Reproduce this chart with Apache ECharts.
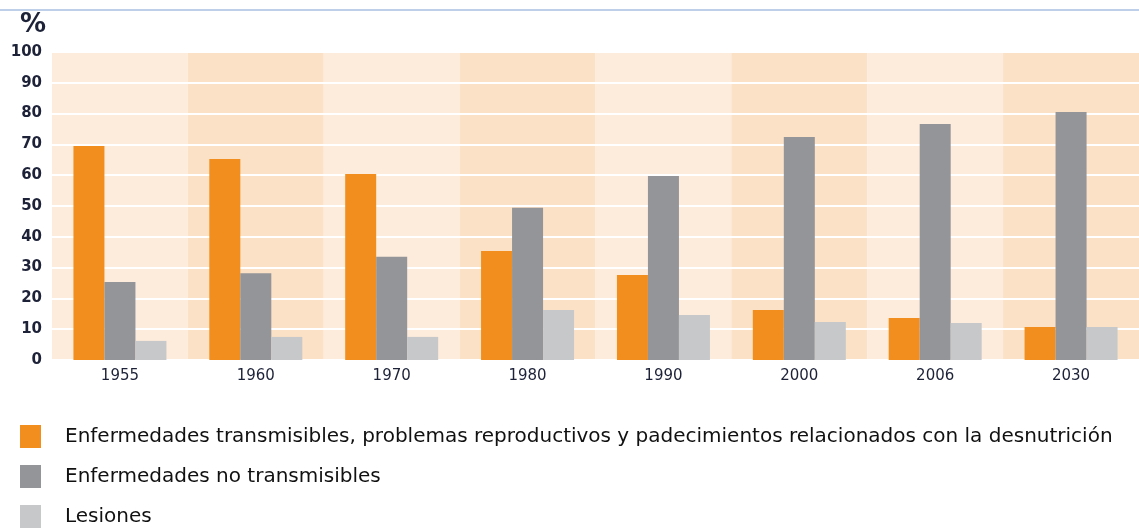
<!DOCTYPE html>
<html>
<head>
<meta charset="utf-8">
<script src="https://cdn.jsdelivr.net/npm/echarts@6/dist/echarts.min.js"></script>
<style>
  html, body { margin: 0; padding: 0; background: #fff; }
  #chart { width: 1139px; height: 529px; }
</style>
</head>
<body>
<div id="chart"></div>
<script>
const years = ["1955", "1960", "1970", "1980", "1990", "2000", "2006", "2030"]
const transmisibles = [69.5, 65.3, 60.4, 35.4, 27.6, 16.2, 13.6, 10.7]
const noTransmisibles = [25.3, 28.2, 33.5, 49.4, 59.7, 72.4, 76.6, 80.5]
const lesiones = [6.2, 7.5, 7.5, 16.2, 14.6, 12.3, 12.0, 10.7]
const seriesNames = [
  "Enfermedades transmisibles, problemas reproductivos y padecimientos relacionados con la desnutrición",
  "Enfermedades no transmisibles",
  "Lesiones",
]

const chart = echarts.init(document.getElementById("chart"))

const textColor = "#1d2238"
const font = "DejaVu Sans"

function barSeries(name, data, color) {
  return {
    name,
    type: "bar",
    data,
    barWidth: 31,
    barGap: "0%",
    itemStyle: { color },
    z: 5,
  }
}

chart.setOption({
  animation: false,
  title: {
    text: "%",
    left: 15,
    top: 7,
    textStyle: { fontFamily: font, fontSize: 26, fontWeight: "bold", color: textColor },
  },
  graphic: [
    {
      type: "line",
      shape: { x1: 0, y1: 10, x2: 1139, y2: 10 },
      style: { stroke: "#a7bfe2", lineWidth: 1.5 },
    },
  ],
  grid: { left: 52, right: -3, top: 52, bottom: 169 },
  xAxis: {
    type: "category",
    data: years,
    z: 0,
    axisLine: { show: false },
    axisTick: { show: false },
    axisLabel: { fontFamily: font, fontSize: 15, color: textColor, margin: 9 },
    splitArea: { show: true, areaStyle: { color: ["#fdecdc", "#fbe1c5"] } },
  },
  yAxis: {
    type: "value",
    min: 0,
    max: 100,
    interval: 10,
    z: 1,
    axisLine: { show: false },
    axisTick: { show: false },
    axisLabel: { fontFamily: font, fontSize: 15, fontWeight: "bold", color: textColor, margin: 10 },
    splitLine: { lineStyle: { color: "#ffffff", width: 2 } },
  },
  legend: {
    orient: "vertical",
    left: 20,
    top: 425,
    height: 140,
    padding: 0,
    itemWidth: 21,
    itemHeight: 23,
    itemGap: 17,
    icon: "rect",
    textStyle: { fontFamily: font, fontSize: 20, color: "#111", padding: [0, 0, 0, 19] },
    data: seriesNames,
  },
  series: [
    barSeries(seriesNames[0], transmisibles, "#f28e1e"),
    barSeries(seriesNames[1], noTransmisibles, "#939598"),
    barSeries(seriesNames[2], lesiones, "#c6c8ca"),
  ],
})
</script>
</body>
</html>
